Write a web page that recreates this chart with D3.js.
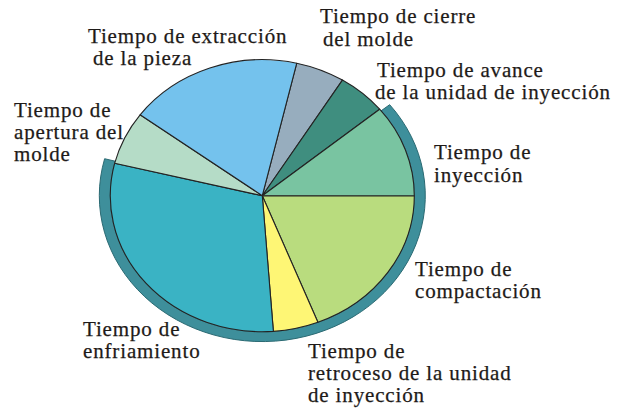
<!DOCTYPE html>
<html>
<head>
  <meta charset="utf-8">
  <title>Tiempos del ciclo de inyección</title>
  <style>
    html, body { margin: 0; padding: 0; background: #fff; }
    svg { display: block; }
    .lbl { font-family: "Liberation Serif", "Times New Roman", serif; font-size: 21px; letter-spacing: 0.85px;
           fill: #1e1a18; stroke: #1e1a18; stroke-width: 0.25px; }
  </style>
</head>
<body>
<script src="https://cdn.jsdelivr.net/npm/d3@7"></script>
<script>
  // data: slices clockwise, starting from "cierre del molde"
  var categories = ["Tiempo de cierre del molde", "Tiempo de avance de la unidad de inyección",
    "Tiempo de inyección", "Tiempo de compactación", "Tiempo de retroceso de la unidad de inyección",
    "Tiempo de enfriamiento", "Tiempo de apertura del molde", "Tiempo de extracción de la pieza"];
  var values = [5.2, 5.2, 11, 19, 4.8, 30, 6.3, 18.5];
  var labelLines = [
    ["Tiempo de cierre", "del molde"],
    ["Tiempo de avance", "de la unidad de inyección"],
    ["Tiempo de", "inyección"],
    ["Tiempo de", "compactación"],
    ["Tiempo de", "retroceso de la unidad", "de inyección"],
    ["Tiempo de", "enfriamiento"],
    ["Tiempo de", "apertura del", "molde"],
    ["Tiempo de extracción", "de la pieza"]
  ];
  // slices under the outer rim (inyección .. enfriamiento)
  var rimFrom = 2, rimTo = 5;

  // styles / layout
  var colors = ["#97adbe", "#3f8e7f", "#79c4a1", "#b9dc7e", "#fef675", "#3ab3c4", "#b5dcc7", "#74c2ed"];
  var labelPos = [
    [[320, 23], [323, 46]],
    [[377, 77], [375, 99]],
    [[434, 159], [434, 182]],
    [[415, 276], [415, 298]],
    [[308, 358], [308, 380], [308, 402]],
    [[83, 336], [83, 358]],
    [[14, 117], [14, 139], [14, 161]],
    [[88, 43], [93, 65]]
  ];

  var W = 622, H = 408;
  var cx = 262.3, cy = 195.7, r = 152, squash = 0.895, rimW = 11;
  var startDeg = 13.1;

  var svg = d3.select("body").append("svg")
    .attr("width", W).attr("height", H);

  var pie = d3.pie().sort(null).value(function(d){ return d; })
    .startAngle(startDeg * Math.PI / 180)
    .endAngle(startDeg * Math.PI / 180 + 2 * Math.PI);
  var arcs = pie(values);

  var arc = d3.arc().innerRadius(0).outerRadius(r);
  var rimArc = d3.arc().innerRadius(r).outerRadius(r + rimW);

  var g = svg.append("g")
    .attr("transform", "translate(" + cx + "," + cy + ") scale(1," + squash + ")");

  // outer rim band
  g.append("path")
    .attr("d", rimArc({ startAngle: arcs[rimFrom].startAngle + 0.015, endAngle: arcs[rimTo].endAngle + 0.015 }))
    .attr("fill", "#3e8f9b")
    .attr("stroke", "#2b6a73")
    .attr("stroke-width", 1)
    .attr("vector-effect", "non-scaling-stroke");

  g.selectAll("path.slice")
    .data(arcs)
    .enter()
    .append("path")
    .attr("class", "slice")
    .attr("d", arc)
    .attr("fill", function(d, i){ return colors[i]; })
    .attr("stroke", "#232323")
    .attr("stroke-width", 1.1)
    .attr("stroke-linejoin", "round")
    .attr("vector-effect", "non-scaling-stroke");

  // labels
  labelLines.forEach(function(lines, i){
    var t = svg.append("text").attr("class", "lbl");
    lines.forEach(function(s, j){
      t.append("tspan")
        .attr("x", labelPos[i][j][0])
        .attr("y", labelPos[i][j][1])
        .text(s);
    });
  });
</script>
</body>
</html>
